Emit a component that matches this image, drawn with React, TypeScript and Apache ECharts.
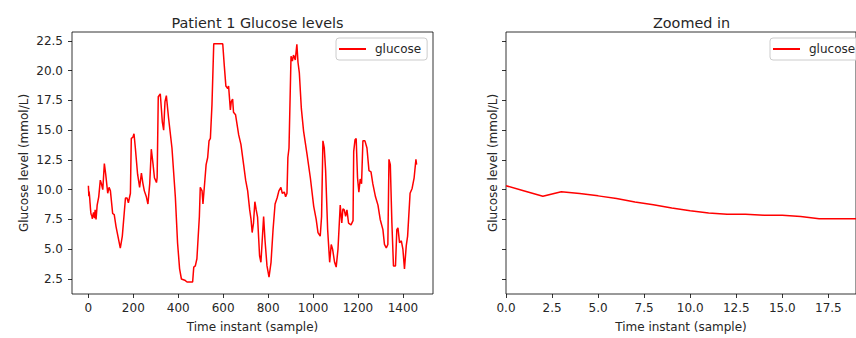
import React, { useEffect, useRef } from "react";
import * as echarts from "echarts";

// Sample index (time instant) and glucose level (mmol/L)
const sampleIdx: number[] = [
  0, 1, 2, 3, 4, 5, 6, 7, 8, 9, 10, 11, 12, 13, 14, 15, 16, 17, 18, 19,
  23, 27, 30, 34, 39, 46, 53, 58, 64, 71, 77, 86, 92, 98, 108, 115, 123, 142, 151, 165,
  172, 178, 187, 191, 198, 203, 209, 219, 228, 236, 242, 249, 258, 265, 273, 280, 288, 294, 303, 306,
  311, 320, 329, 335, 341, 347, 357, 372, 387, 397, 406, 414, 429, 439, 464, 469, 476, 483, 494, 498,
  506, 510, 516, 524, 531, 537, 543, 550, 558, 598, 605, 612, 620, 624, 632, 636, 642, 646, 655, 669,
  679, 691, 700, 709, 718, 724, 729, 735, 741, 747, 753, 762, 768, 780, 786, 795, 804, 813, 822, 831,
  840, 848, 857, 863, 872, 878, 884, 888, 893, 902, 908, 913, 921, 928, 933, 939, 948, 958, 973, 988,
  1003, 1014, 1022, 1032, 1038, 1044, 1050, 1056, 1065, 1074, 1081, 1087, 1096, 1103, 1111, 1121, 1128, 1133, 1139, 1145,
  1151, 1158, 1169, 1178, 1181, 1187, 1192, 1198, 1204, 1210, 1216, 1222, 1231, 1240, 1249, 1258, 1266, 1278, 1289, 1299,
  1311, 1318, 1326, 1333, 1338, 1344, 1351, 1358, 1367, 1373, 1378, 1385, 1393, 1400, 1407, 1415, 1421, 1432, 1441, 1450,
  1458, 1461,
];

const glucose: number[] = [
  10.33, 9.89, 9.45, 9.83, 9.67, 9.48, 9.26, 8.96, 8.74, 8.46, 8.24, 8.05, 7.94, 7.94, 7.86, 7.86, 7.75, 7.56, 7.56, 7.55,
  8.1, 7.6, 8.3, 7.5, 8.7, 9.4, 10.8, 10.5, 10.0, 12.2, 11.3, 9.7, 10.2, 9.9, 8.0, 7.9, 6.9, 5.1, 6.1, 9.3,
  9.3, 8.9, 9.7, 14.3, 14.4, 14.7, 13.5, 11.3, 10.2, 11.4, 10.6, 9.9, 9.4, 8.8, 10.5, 13.4, 12.1, 11.0, 10.6, 11.0,
  17.8, 18.05, 15.7, 15.0, 17.4, 17.9, 16.0, 13.5, 9.4, 5.5, 3.35, 2.5, 2.4, 2.25, 2.25, 3.5, 3.6, 4.2, 7.75, 10.2,
  9.9, 8.8, 10.2, 12.1, 12.7, 14.1, 14.3, 17.1, 22.25, 22.25, 20.4, 18.7, 18.5, 18.7, 16.7, 17.4, 17.6, 16.5, 16.3, 14.6,
  13.8, 12.1, 10.8, 9.9, 8.3, 7.5, 6.4, 7.2, 8.99, 8.3, 7.7, 4.45, 3.9, 7.75, 5.8, 3.6, 2.65, 3.9, 6.65, 8.8,
  9.3, 9.9, 10.2, 9.7, 9.8, 9.4, 9.7, 12.7, 13.5, 21.2, 20.8, 21.3, 20.9, 22.2, 20.7, 19.8, 16.8, 14.9, 13.0, 11.0,
  8.6, 7.5, 6.4, 6.1, 7.75, 14.1, 13.5, 11.6, 6.65, 3.9, 5.4, 5.0, 3.9, 3.5, 5.0, 8.7, 7.2, 8.4, 8.3, 7.75,
  8.3, 7.2, 7.05, 7.4, 13.2, 14.2, 14.3, 11.0, 9.8, 10.9, 10.5, 14.1, 14.1, 13.5, 11.6, 11.5, 10.5, 9.4, 8.7, 7.5,
  6.65, 5.4, 5.1, 5.4, 12.55, 12.1, 7.2, 3.6, 3.6, 6.65, 6.8, 5.55, 5.7, 5.0, 3.35, 5.3, 6.1, 9.7, 10.1, 11.0,
  12.55, 12.1,
];

const zoomCount = 20; // first 20 samples shown in the zoomed panel

const yTicks: number[] = [2.5, 5, 7.5, 10, 12.5, 15, 17.5, 20, 22.5];
const xTicksFull: number[] = [0, 200, 400, 600, 800, 1000, 1200, 1400];
const xTicksZoom: number[] = [0, 2.5, 5, 7.5, 10, 12.5, 15, 17.5];

const titles: string[] = ["Patient 1 Glucose levels", "Zoomed in"];
const seriesName = "glucose";
const xName = "Time instant (sample)";
const yName = "Glucose level (mmol/L)";

const FONT = "DejaVu Sans";
const TXT = "#262626";
const FS = 12;

export default function App() {
  const ref = useRef<HTMLDivElement>(null);

  useEffect(() => {
    if (!ref.current) return;
    const chart = echarts.init(ref.current, undefined, { renderer: "svg" });

    const full = sampleIdx.map((x, i) => [x, glucose[i]]);
    const zoomed = full.slice(0, zoomCount);

    const axisCommonX = (ticks: number[], min: number, max: number, fmt: (v: number) => string, gridIndex: number) => ({
      type: "value",
      gridIndex,
      min,
      max,
      name: xName,
      nameLocation: "middle",
      nameGap: 27,
      nameTextStyle: { fontFamily: FONT, fontSize: FS, color: TXT },
      splitLine: { show: false },
      axisLine: { show: false, onZero: false },
      axisTick: { show: true, length: 4, customValues: ticks, lineStyle: { color: "#000", width: 0.8 } },
      axisLabel: {
        customValues: ticks,
        margin: 8,
        fontFamily: FONT,
        fontSize: FS,
        color: TXT,
        formatter: (v: number) => fmt(v),
      },
    });

    const axisCommonY = (gridIndex: number, showLabels: boolean, nameGap: number) => ({
      type: "value",
      gridIndex,
      min: 1.24,
      max: 23.24,
      name: yName,
      nameLocation: "middle",
      nameGap,
      nameRotate: 90,
      nameTextStyle: { fontFamily: FONT, fontSize: FS, color: TXT },
      splitLine: { show: false },
      axisLine: { show: false, onZero: false },
      axisTick: { show: true, length: 4, customValues: yTicks, lineStyle: { color: "#000", width: 0.8 } },
      axisLabel: {
        show: showLabels,
        customValues: yTicks,
        margin: 9,
        fontFamily: FONT,
        fontSize: FS,
        color: TXT,
        formatter: (v: number) => v.toFixed(1),
      },
    });

    const legendCommon = {
      data: [seriesName],
      top: 38,
      orient: "horizontal",
      icon: "rect",
      itemWidth: 27,
      itemHeight: 2,
      padding: [4, 6, 4, 3],
      borderColor: "#cccccc",
      borderWidth: 1,
      borderRadius: 3,
      backgroundColor: "rgba(255,255,255,0.8)",
      selectedMode: false,
      textStyle: { fontFamily: FONT, fontSize: FS, lineHeight: 14, color: TXT, padding: [0, 0, 0, 4] },
    };

    chart.setOption({
      animation: false,
      backgroundColor: "#ffffff",
      title: [
        {
          text: titles[0],
          left: 252.5,
          top: 11,
          textAlign: "center",
          textStyle: { fontFamily: FONT, fontSize: 14.4, fontWeight: "normal", color: TXT },
        },
        {
          text: titles[1],
          left: 686.5,
          top: 11,
          textAlign: "center",
          textStyle: { fontFamily: FONT, fontSize: 14.4, fontWeight: "normal", color: TXT },
        },
      ],
      legend: [
        { ...legendCommon, left: 336 },
        { ...legendCommon, left: 770 },
      ],
      grid: [
        { left: 72, top: 32, width: 361, height: 267, show: true, borderColor: "#000", borderWidth: 0.8, backgroundColor: "transparent" },
        { left: 506, top: 32, width: 361, height: 267, show: true, borderColor: "#000", borderWidth: 0.8, backgroundColor: "transparent" },
      ],
      xAxis: [
        axisCommonX(xTicksFull, -73, 1534, (v) => String(v), 0),
        axisCommonX(xTicksZoom, 0, 19, (v) => v.toFixed(1), 1),
      ],
      yAxis: [axisCommonY(0, true, 42), axisCommonY(1, false, 7)],
      series: [
        {
          name: seriesName,
          type: "line",
          xAxisIndex: 0,
          yAxisIndex: 0,
          data: full,
          showSymbol: false,
          symbol: "none",
          lineStyle: { color: "#ff0000", width: 1.5 },
          itemStyle: { color: "#ff0000" },
        },
        {
          name: seriesName,
          type: "line",
          xAxisIndex: 1,
          yAxisIndex: 1,
          data: zoomed,
          showSymbol: false,
          symbol: "none",
          lineStyle: { color: "#ff0000", width: 1.5 },
          itemStyle: { color: "#ff0000" },
        },
      ],
    });

    return () => chart.dispose();
  }, []);

  return (
    <div
      ref={ref}
      style={{ position: "fixed", left: 0, top: 0, width: 856, height: 338, background: "#fff" }}
    />
  );
}
